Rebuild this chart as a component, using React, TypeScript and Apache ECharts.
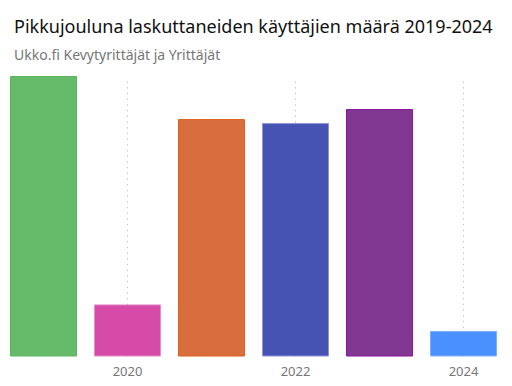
import React, { useEffect, useRef } from "react";
import * as echarts from "echarts";

const years = ["2019", "2020", "2021", "2022", "2023", "2024"];
const values = [2800, 520, 2370, 2330, 2470, 255];
const gridYears = ["2020", "2022", "2024"];
const colors = ["#66BB6A", "#D64BA8", "#D86E3B", "#4753B3", "#813891", "#4A90FE"];
const borders = ["#5DB561", "#E68CC8", "#E0601E", "#8E95D6", "#8B13A0", "#7FB0FF"];

export default function App() {
  const ref = useRef<HTMLDivElement>(null);
  useEffect(() => {
    const chart = echarts.init(ref.current!, null, { renderer: "svg" });
    const showOdd = (i: number) => i % 2 === 1;
    chart.setOption({
      animation: false,
      title: {
        text: "Pikkujouluna laskuttaneiden käyttäjien määrä 2019-2024",
        subtext: "Ukko.fi Kevytyrittäjät ja Yrittäjät",
        left: 9,
        top: 12,
        itemGap: 12,
        textStyle: { fontFamily: "Noto Sans", fontSize: 18, fontWeight: "normal", color: "#111" },
        subtextStyle: { fontFamily: "Noto Sans", fontSize: 14, color: "#777" },
      },
      grid: [
        { left: 1.5, right: 6.5, top: 76, bottom: 29.5 },
        { left: 1.5, right: 6.5, top: 79, bottom: 29.5 },
      ],
      xAxis: [
        {
          type: "category",
          gridIndex: 0,
          data: years,
          axisLine: { show: false },
          axisTick: { show: false },
          axisLabel: {
            interval: (i: number) => showOdd(i),
            color: "#777",
            fontFamily: "Noto Sans",
            fontSize: 13,
            margin: 8,
          },
          splitLine: { show: false },
        },
        {
          type: "category",
          gridIndex: 1,
          data: years,
          show: false,
        },
      ],
      yAxis: [
        { type: "value", gridIndex: 0, min: 0, max: 2800, show: false, splitLine: { show: false } },
        { type: "value", gridIndex: 1, min: 0, max: 1, show: false, splitLine: { show: false } },
      ],
      series: [
        {
          type: "line",
          xAxisIndex: 1,
          yAxisIndex: 1,
          z: 1,
          data: [],
          silent: true,
          markLine: {
            z: 1,
            silent: true,
            symbol: "none",
            label: { show: false },
            lineStyle: { type: [1.5, 4.2], color: "#C8C8C8", width: 1 },
            data: gridYears.map((y) => ({ xAxis: y })),
          },
        },
        {
          type: "bar",
          z: 10,
          barWidth: 67,
          data: values.map((v, i) => ({
            value: v,
            itemStyle: { color: colors[i], borderColor: borders[i], borderWidth: 1 },
          })),
        },
      ],
    });
    return () => chart.dispose();
  }, []);
  return <div ref={ref} style={{ width: 512, height: 386, position: "absolute", left: 0, top: 0 }} />;
}
